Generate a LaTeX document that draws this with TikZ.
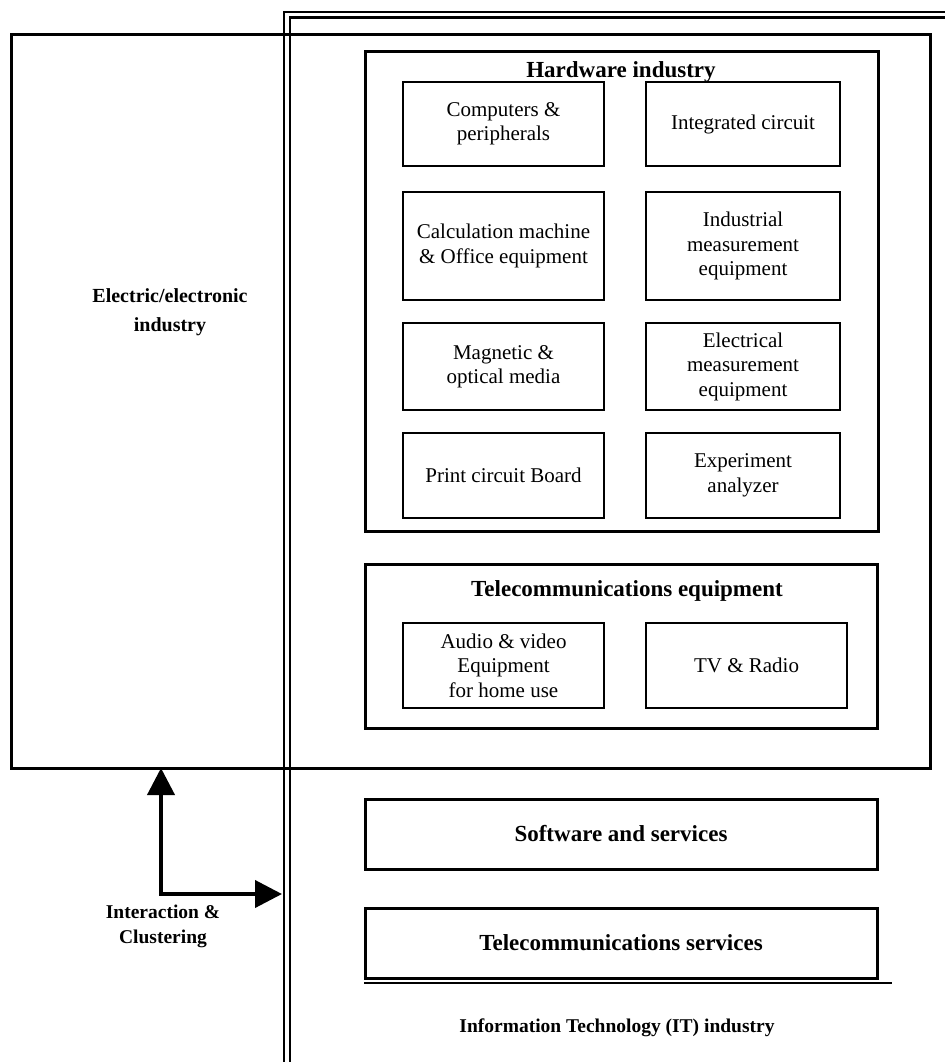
\documentclass[tikz,border=0pt]{standalone}
\usepackage{fontspec}
\setmainfont{Liberation Serif}
\usetikzlibrary{arrows.meta}
\begin{document}
\begin{tikzpicture}[x=1pt,y=-1pt,
  frame/.style={draw, line width=3pt, inner sep=0pt},
  itline/.style={line width=2.5pt},
  cell/.style={draw, line width=2pt, align=center, inner sep=0pt,
    font=\fontsize{21}{24.5}\selectfont},
  head/.style={font=\bfseries\fontsize{23}{26}\selectfont, inner sep=0pt},
  side/.style={font=\bfseries\fontsize{20}{28.5}\selectfont, align=center, inner sep=0pt},
  bigarrow/.style={line width=4pt, {Triangle[length=27pt,width=27pt]}-{Triangle[length=27pt,width=27pt]}}
]
\useasboundingbox (0,0) rectangle (945,1062);

% IT industry: double frame running off the page to the right and bottom
\coordinate (itob) at (284,1062);
\coordinate (itoc) at (284,12);
\coordinate (itor) at (945,12);
\coordinate (itib) at (290,1062);
\coordinate (itic) at (290,17.5);
\coordinate (itir) at (945,17.5);
\draw[itline] (itob) -- (itoc) -- (itor);
\draw[itline] (itib) -- (itic) -- (itir);

% Electric/electronic industry
\node[frame, minimum width=919pt, minimum height=733pt] (elec) at (470.5,401.5) {};
\node[side] (elecl) at (170,312) {Electric/electronic\\industry};

% Hardware industry
\node[frame, minimum width=513pt, minimum height=479pt] (hw) at (621.5,291.5) {};
\node[head] (hwl) at (621,72) {Hardware industry};

\node[cell, minimum width=201pt, minimum height=84pt]  (c11) at (503.5,124)   {Computers \&\\peripherals};
\node[cell, minimum width=194pt, minimum height=84pt]  (c12) at (743,124)     {Integrated circuit};
\node[cell, minimum width=201pt, minimum height=108pt] (c21) at (503.5,246)   {Calculation machine\\\& Office equipment};
\node[cell, minimum width=194pt, minimum height=108pt] (c22) at (743,246)     {Industrial\\measurement\\equipment};
\node[cell, minimum width=201pt, minimum height=87pt]  (c31) at (503.5,366.5) {Magnetic \&\\optical media};
\node[cell, minimum width=194pt, minimum height=87pt]  (c32) at (743,366.5)   {Electrical\\measurement\\equipment};
\node[cell, minimum width=201pt, minimum height=85pt]  (c41) at (503.5,475.5) {Print circuit Board};
\node[cell, minimum width=194pt, minimum height=85pt]  (c42) at (743,475.5)   {Experiment\\analyzer};

% Telecommunications equipment
\node[frame, minimum width=512pt, minimum height=164pt] (tel) at (621,646) {};
\node[head] (tell) at (627,591) {Telecommunications equipment};
\node[cell, minimum width=201pt, minimum height=85pt] (av) at (503.5,665.5) {Audio \& video\\Equipment\\for home use};
\node[cell, minimum width=201pt, minimum height=85pt] (tv) at (746.5,665.5) {TV \& Radio};

% Services
\node[frame, minimum width=512pt, minimum height=70pt, head] (sw) at (621,834) {Software and services};
\node[frame, minimum width=512pt, minimum height=70pt, head] (ts) at (621,943) {Telecommunications services};
\coordinate (ulA) at (364,983);
\coordinate (ulB) at (892,983);
\draw[line width=2pt] (ulA) -- (ulB);

\node[font=\bfseries\fontsize{19.5}{22}\selectfont, inner sep=0pt] (itl) at (617,1028) {Information Technology (IT) industry};

% Interaction & clustering arrows
\coordinate (arU) at (161,768);
\coordinate (arC) at (161,894);
\coordinate (arR) at (282,894);
\draw[bigarrow] (arU) -- (arC) -- (arR);
\node[side, font=\bfseries\fontsize{19.5}{25}\selectfont] (intl) at (163,926) {Interaction \&\\Clustering};
\end{tikzpicture}
\end{document}
